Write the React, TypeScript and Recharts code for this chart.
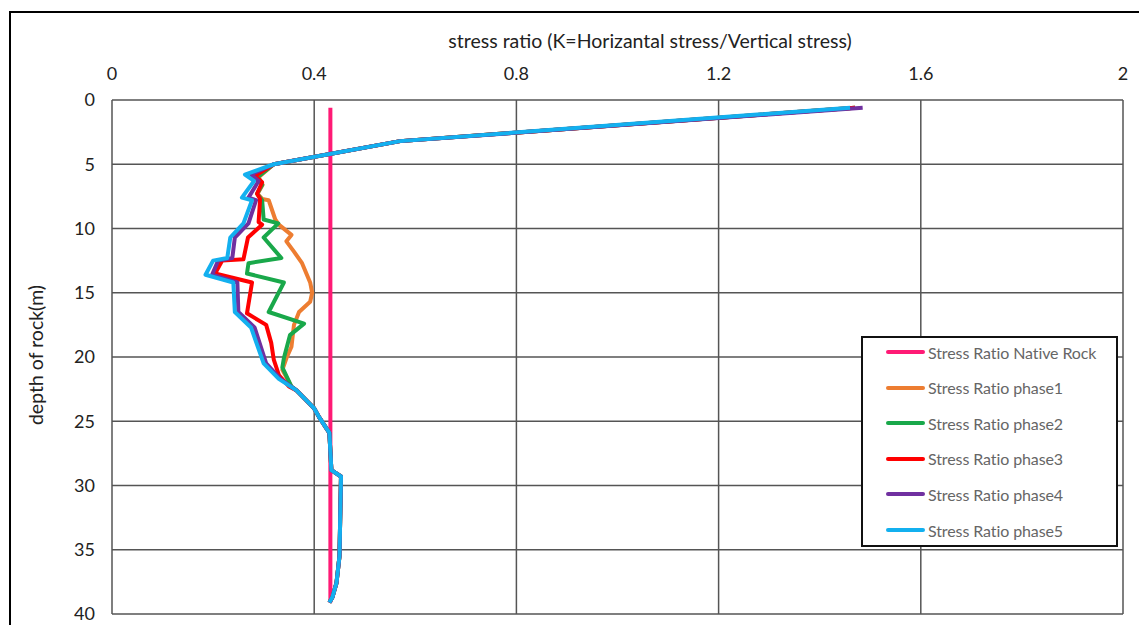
import React from 'react';
import { ScatterChart, Scatter, XAxis, YAxis, CartesianGrid, Legend } from 'recharts';

// stress ratio K (x) against depth of rock in m (y)
const xTicks = [0, 0.4, 0.8, 1.2, 1.6, 2];
const yTicks = [0, 5, 10, 15, 20, 25, 30, 35, 40];

const nativeDepth = [0.6, 39.1];
const nativeK = [0.432, 0.432];

const phase1Depth = [0.6, 3.2, 5.0, 6.0, 6.6, 7.3, 7.7, 7.8, 9.3, 9.7, 10.5, 11.0, 11.8, 12.7, 14.2, 15.0, 15.7, 16.5, 17.5, 19.2, 20.1, 21.0, 22.3, 22.6, 24.0, 24.7, 25.9, 28.8, 29.3, 35.5, 37.6, 38.7, 39.1];
const phase1K = [1.47, 0.57, 0.32, 0.29, 0.298, 0.288, 0.297, 0.31, 0.323, 0.33, 0.355, 0.345, 0.36, 0.376, 0.392, 0.396, 0.392, 0.37, 0.36, 0.355, 0.345, 0.337, 0.355, 0.365, 0.4, 0.41, 0.43, 0.434, 0.453, 0.45, 0.444, 0.436, 0.43];

const phase2Depth = [0.6, 3.2, 5.0, 6.0, 6.6, 7.3, 7.8, 9.3, 9.6, 10.7, 12.3, 12.7, 13.5, 14.2, 16.5, 17.4, 18.3, 20.1, 20.8, 22.3, 22.6, 24.0, 24.7, 25.9, 28.8, 29.3, 35.5, 37.6, 38.7, 39.1];
const phase2K = [1.47, 0.57, 0.32, 0.288, 0.297, 0.287, 0.297, 0.3, 0.329, 0.3, 0.335, 0.27, 0.267, 0.34, 0.31, 0.38, 0.352, 0.34, 0.337, 0.355, 0.365, 0.4, 0.41, 0.43, 0.434, 0.453, 0.45, 0.444, 0.436, 0.43];

const phase3Depth = [0.6, 3.2, 5.0, 5.9, 6.4, 7.3, 7.7, 9.5, 9.7, 10.7, 12.4, 12.5, 13.5, 14.2, 16.6, 17.5, 18.9, 20.2, 21.4, 22.3, 22.6, 24.0, 24.7, 25.9, 28.8, 29.3, 35.5, 37.6, 38.7, 39.1];
const phase3K = [1.47, 0.57, 0.32, 0.283, 0.297, 0.287, 0.293, 0.29, 0.297, 0.269, 0.26, 0.218, 0.204, 0.277, 0.267, 0.305, 0.315, 0.32, 0.33, 0.35, 0.365, 0.4, 0.41, 0.43, 0.434, 0.453, 0.45, 0.444, 0.436, 0.43];

const phase4Depth = [0.6, 3.2, 5.0, 5.8, 6.3, 7.6, 7.8, 9.6, 10.7, 12.3, 12.5, 13.6, 14.2, 16.5, 17.7, 20.5, 21.7, 22.6, 24.0, 24.7, 25.9, 28.8, 29.3, 35.5, 37.6, 38.7, 39.1];
const phase4K = [1.485, 0.57, 0.32, 0.275, 0.29, 0.27, 0.285, 0.27, 0.243, 0.238, 0.21, 0.198, 0.248, 0.25, 0.282, 0.305, 0.333, 0.365, 0.4, 0.41, 0.43, 0.434, 0.453, 0.45, 0.444, 0.436, 0.43];

const phase5Depth = [0.6, 3.2, 5.0, 5.8, 6.3, 7.6, 7.8, 9.6, 10.7, 12.3, 12.5, 13.6, 14.2, 16.5, 17.7, 20.5, 21.7, 22.6, 24.0, 24.7, 25.9, 28.8, 29.3, 35.5, 37.6, 38.7, 39.1];
const phase5K = [1.46, 0.57, 0.32, 0.263, 0.281, 0.257, 0.277, 0.26, 0.234, 0.228, 0.2, 0.185, 0.24, 0.243, 0.275, 0.3, 0.33, 0.365, 0.4, 0.41, 0.43, 0.434, 0.453, 0.45, 0.444, 0.436, 0.43];

const toPoints = (depth: number[], k: number[]) => depth.map((d, i) => ({ depth: d, k: k[i] }));

const series = [
  { name: 'Stress Ratio Native Rock', color: '#ff1a75', data: toPoints(nativeDepth, nativeK) },
  { name: 'Stress Ratio phase1', color: '#ed7d31', data: toPoints(phase1Depth, phase1K) },
  { name: 'Stress Ratio phase2', color: '#19a84a', data: toPoints(phase2Depth, phase2K) },
  { name: 'Stress Ratio phase3', color: '#ff0000', data: toPoints(phase3Depth, phase3K) },
  { name: 'Stress Ratio phase4', color: '#7030a0', data: toPoints(phase4Depth, phase4K) },
  { name: 'Stress Ratio phase5', color: '#13b0ef', data: toPoints(phase5Depth, phase5K) },
];

const font = 'Lato, "Open Sans", sans-serif';

const LegendBox = () => (
  <div style={{ width: 253, height: 207, background: '#fff', border: '2px solid #111', boxSizing: 'content-box', fontFamily: font }}>
    {series.map((s, i) => (
      <div key={s.name} style={{ position: 'absolute', left: 25, top: 6 + i * 35.6, height: 20, display: 'flex', alignItems: 'center' }}>
        <div style={{ width: 39, height: 4, background: s.color, borderRadius: 2 }} />
        <span style={{ marginLeft: 3, fontSize: 16, color: '#666', letterSpacing: -0.1 }}>{s.name}</span>
      </div>
    ))}
  </div>
);

export default function App() {
  return (
    <div style={{ position: 'absolute', left: 0, top: 0, width: 1139, height: 625, overflow: 'hidden', background: '#fff' }}>
      <div style={{ position: 'absolute', left: 9, top: 11, width: 1200, height: 700, border: '2px solid #000' }} />
      <div style={{ position: 'absolute', left: 650, top: 29, transform: 'translateX(-50%)', whiteSpace: 'nowrap', fontFamily: font, fontSize: 19.5, color: '#222' }}>
        stress ratio (K=Horizantal stress/Vertical stress)
      </div>
      <div style={{ position: 'absolute', left: 35, top: 355, transform: 'translate(-50%, -50%) rotate(-90deg)', whiteSpace: 'nowrap', fontFamily: font, fontSize: 19.5, color: '#222' }}>
        depth of rock(m)
      </div>
      <div style={{ position: 'absolute', left: 0, top: 0 }}>
        <ScatterChart width={1139} height={625} margin={{ top: 70, left: 52, right: 16, bottom: 11 }}>
          <CartesianGrid stroke="#555" strokeWidth={1.5} />
          <XAxis
            type="number"
            dataKey="k"
            orientation="top"
            domain={[0, 2]}
            ticks={xTicks}
            height={30}
            axisLine={false}
            tickLine={false}
            tickSize={0}
            tickMargin={20}
            tick={{ fill: '#222', fontSize: 18, fontFamily: font }}
            allowDataOverflow
          />
          <YAxis
            type="number"
            dataKey="depth"
            reversed
            domain={[0, 40]}
            ticks={yTicks}
            width={60}
            axisLine={false}
            tickLine={false}
            tickSize={0}
            tickMargin={17}
            tick={{ fill: '#222', fontSize: 18, fontFamily: font }}
            allowDataOverflow
          />
          {series.map(s => (
            <Scatter
              key={s.name}
              name={s.name}
              data={s.data}
              fill={s.color}
              line={{ stroke: s.color, strokeWidth: 4, strokeLinejoin: 'round' }}
              lineType="joint"
              shape={() => <g />}
              isAnimationActive={false}
            />
          ))}
          <Legend
            layout="horizontal"
            verticalAlign="middle"
            align="center"
            content={() => <LegendBox />}
            wrapperStyle={{ position: 'absolute', left: 861, top: 336, width: 257, height: 211 }}
          />
        </ScatterChart>
      </div>
    </div>
  );
}
